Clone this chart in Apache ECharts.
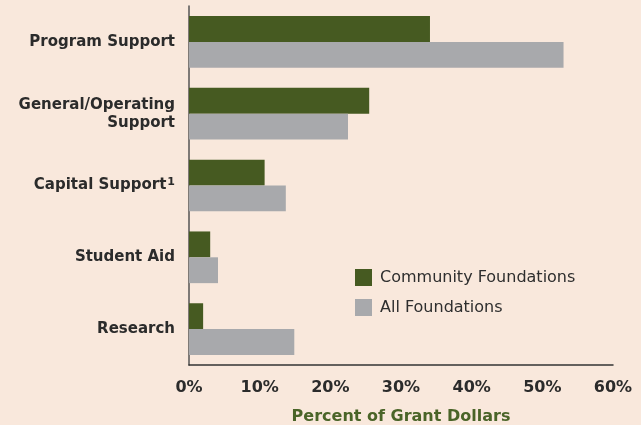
<!DOCTYPE html>
<html>
<head>
<meta charset="utf-8">
<script src="https://cdn.jsdelivr.net/npm/echarts@6/dist/echarts.min.js"></script>
<style>
  html, body { margin: 0; padding: 0; background: #f9e8dc; }
  #chart { width: 641px; height: 425px; }
</style>
</head>
<body>
<div id="chart"></div>
<script>
const categories = [
  "Program Support",
  "General/Operating\nSupport",
  "Capital Support{sup|1}",
  "Student Aid",
  "Research",
];
const communityFoundations = [34.1, 25.5, 10.7, 3.0, 2.0];
const allFoundations = [53.0, 22.5, 13.7, 4.1, 14.9];
const xTicks = [0, 10, 20, 30, 40, 50, 60];

const colorList = ["#465a21", "#a8a9ac"];
const labelFont = "DejaVu Sans";

const chart = echarts.init(document.getElementById("chart"));
chart.setOption({
  animation: false,
  backgroundColor: "#f9e8dc",
  color: colorList,
  legend: {
    orient: "vertical",
    left: 355,
    top: 269,
    padding: 0,
    itemWidth: 17,
    itemHeight: 17,
    itemGap: 13,
    icon: "rect",
    textStyle: {
      fontFamily: labelFont,
      fontSize: 16,
      color: "#2e2e2e",
      padding: [0, 0, 0, 3],
    },
    data: ["Community Foundations", "All Foundations"],
  },
  grid: { left: 189, right: 28, top: 6, bottom: 60, outerBoundsMode: "none" },
  xAxis: {
    type: "value",
    min: xTicks[0],
    max: xTicks[xTicks.length - 1],
    interval: 10,
    axisLine: { show: true, lineStyle: { color: "#333", width: 1.5 } },
    axisTick: { show: false },
    splitLine: { show: false },
    axisLabel: {
      formatter: "{value}%",
      margin: 15,
      fontFamily: labelFont,
      fontWeight: "bold",
      fontSize: 16,
      color: "#2b2b2b",
    },
    name: "Percent of Grant Dollars",
    nameLocation: "middle",
    nameGap: 44,
    nameTextStyle: {
      fontFamily: labelFont,
      fontWeight: "bold",
      fontSize: 16,
      color: "#4a6428",
    },
  },
  yAxis: {
    type: "category",
    inverse: true,
    data: categories,
    axisLine: { show: true, lineStyle: { color: "#555", width: 1.5 } },
    axisTick: { show: false },
    axisLabel: {
      margin: 14,
      fontFamily: labelFont,
      fontWeight: "bold",
      fontSize: 15,
      lineHeight: 18,
      color: "#2b2b2b",
      align: "right",
      rich: {
        sup: {
          fontFamily: labelFont,
          fontWeight: "bold",
          fontSize: 11,
          color: "#2b2b2b",
          verticalAlign: "top",
          lineHeight: 18,
          padding: [0, 0, 6, 1],
        },
      },
    },
  },
  series: [
    {
      name: "Community Foundations",
      type: "bar",
      data: communityFoundations,
      barGap: "0%",
      barCategoryGap: "28%",
      itemStyle: { color: colorList[0] },
    },
    {
      name: "All Foundations",
      type: "bar",
      data: allFoundations,
      itemStyle: { color: colorList[1] },
    },
  ],
});
</script>
</body>
</html>
